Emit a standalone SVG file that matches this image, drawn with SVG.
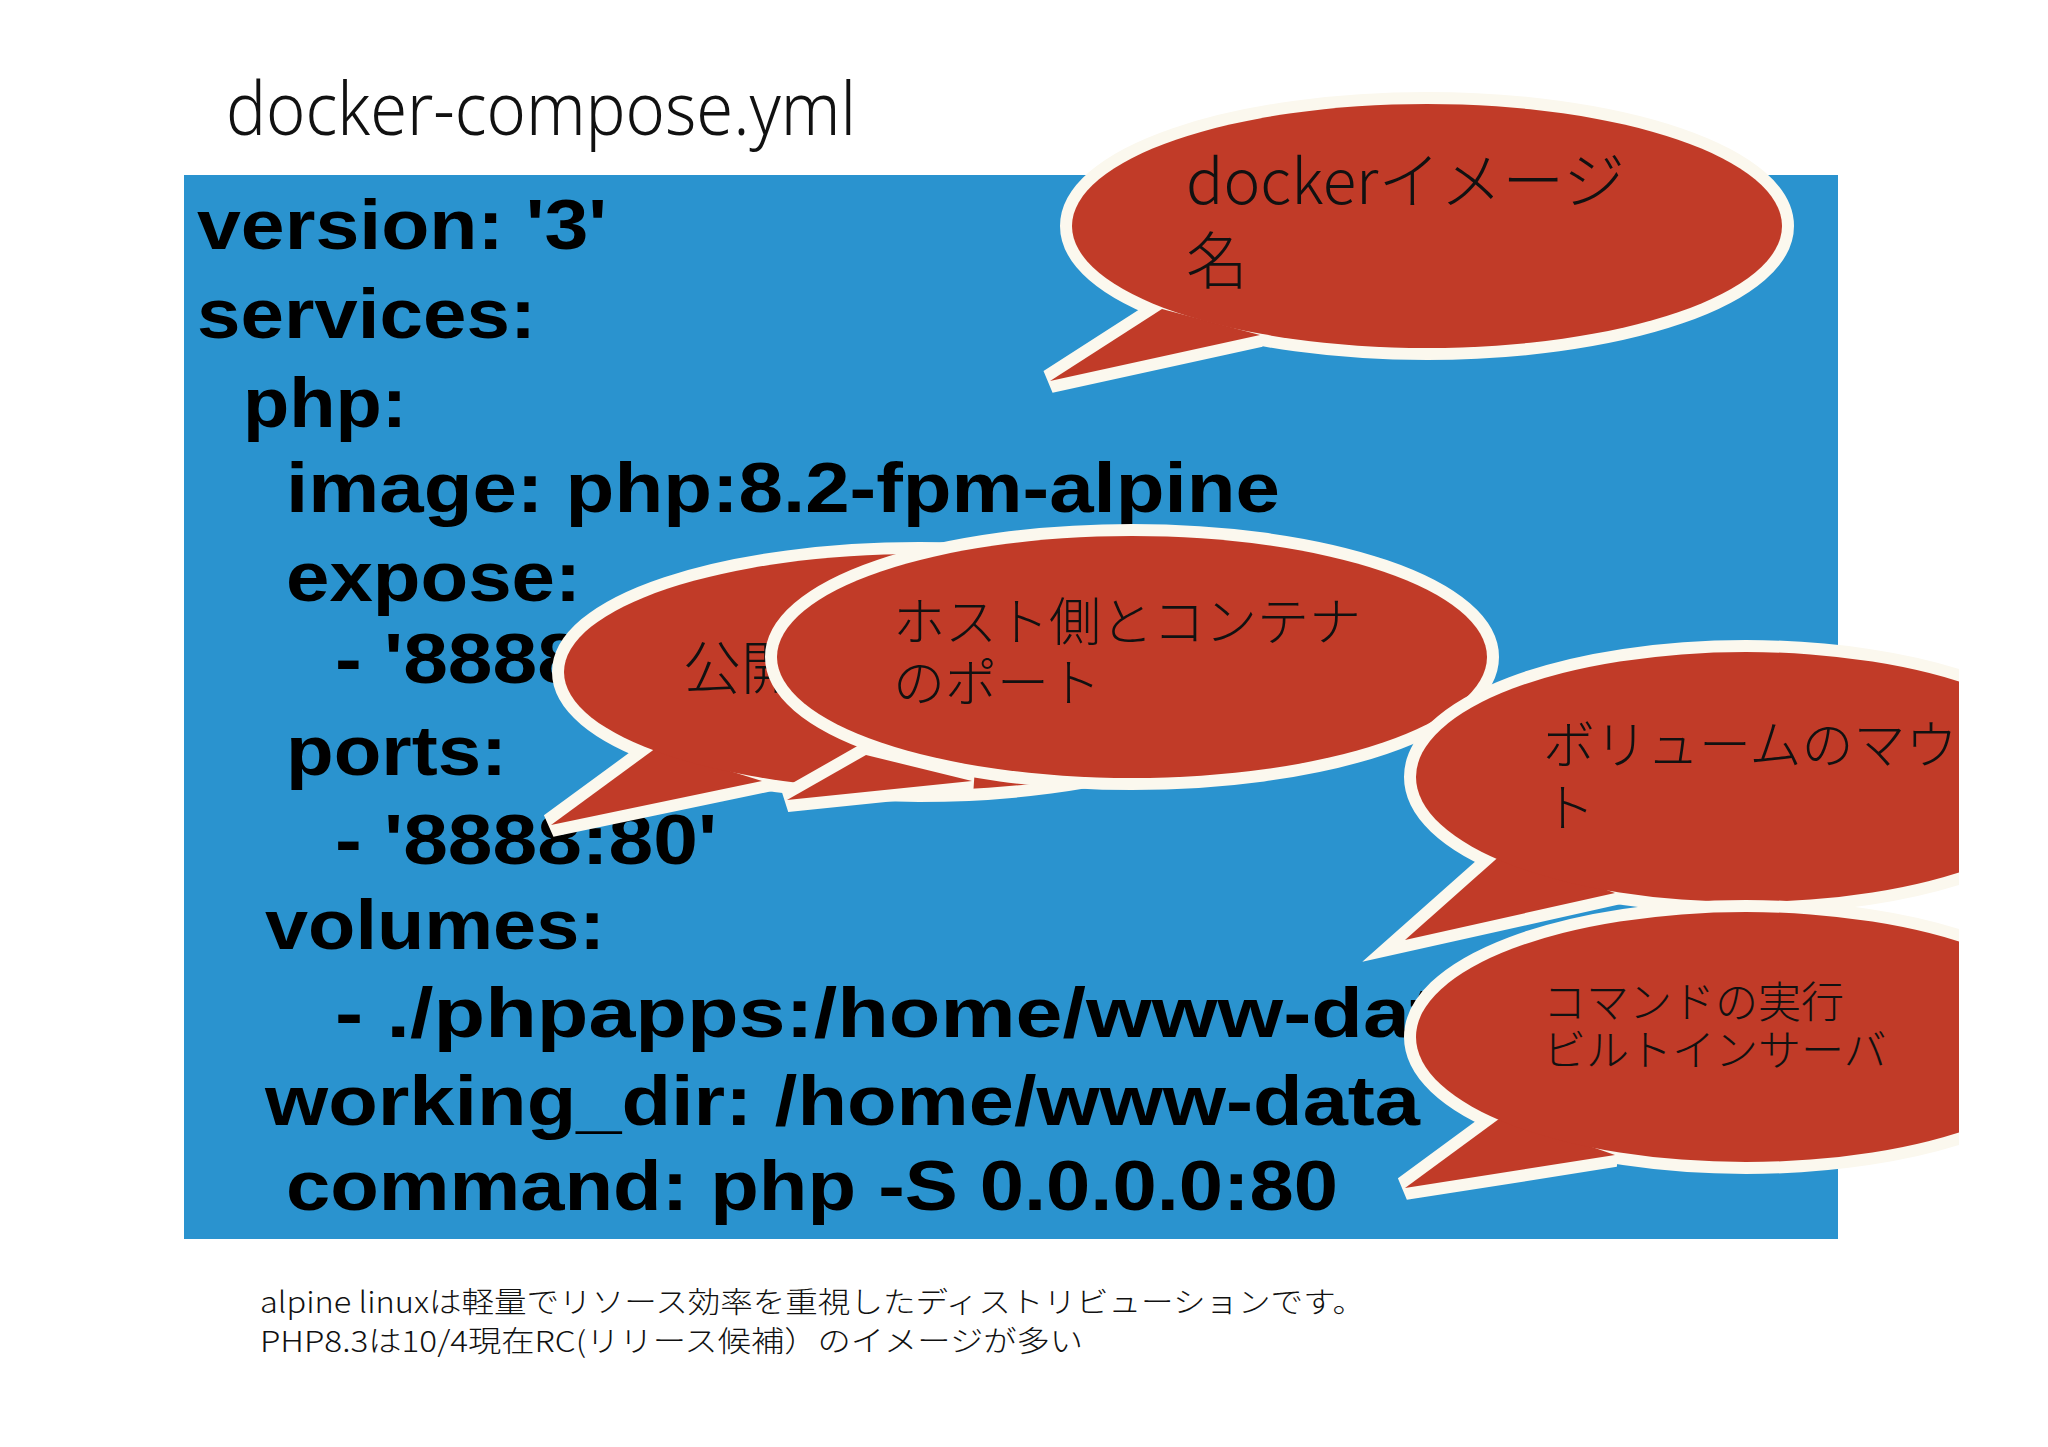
<svg xmlns="http://www.w3.org/2000/svg" width="2048" height="1447" viewBox="0 0 2048 1447">
<style>
.code{font-family:"Liberation Sans",Arial,sans-serif;font-weight:bold;font-size:70px;fill:#000}
.w{fill:#fbf8ee;stroke:#fbf8ee;stroke-width:24;stroke-linejoin:miter}
.r{fill:#c13b28}
.jp{font-family:"Noto Sans CJK JP","Noto Sans",sans-serif;fill:#111;font-weight:300}
</style>
<defs><clipPath id="cr"><rect x="0" y="0" width="1959" height="1447"/></clipPath></defs>
<rect width="2048" height="1447" fill="#fff"/>
<text x="226" y="135" font-family="Noto Sans, sans-serif" font-weight="300" font-size="74" textLength="630" lengthAdjust="spacingAndGlyphs" fill="#111">docker-compose.yml</text>
<rect id="panel" x="184" y="175" width="1654" height="1064" fill="#2a93cf"/>
<g id="code" class="code">
<text x="197" y="249" textLength="410" lengthAdjust="spacingAndGlyphs">version: '3'</text>
<text x="197" y="338" textLength="339" lengthAdjust="spacingAndGlyphs">services:</text>
<text x="243" y="427" textLength="164" lengthAdjust="spacingAndGlyphs">php:</text>
<text x="286" y="512" textLength="994" lengthAdjust="spacingAndGlyphs">image: php:8.2-fpm-alpine</text>
<text x="286" y="601" textLength="295" lengthAdjust="spacingAndGlyphs">expose:</text>
<text x="335" y="683" textLength="382" lengthAdjust="spacingAndGlyphs">- '8888:80'</text>
<text x="286" y="775" textLength="221" lengthAdjust="spacingAndGlyphs">ports:</text>
<text x="335" y="864" textLength="382" lengthAdjust="spacingAndGlyphs">- '8888:80'</text>
<text x="265" y="949" textLength="340" lengthAdjust="spacingAndGlyphs">volumes:</text>
<text x="335" y="1037" textLength="1150" lengthAdjust="spacingAndGlyphs">- ./phpapps:/home/www-data</text>
<text x="265" y="1125" textLength="1155" lengthAdjust="spacingAndGlyphs">working_dir: /home/www-data</text>
<text x="286" y="1210" textLength="1052" lengthAdjust="spacingAndGlyphs">command: php -S 0.0.0.0:80</text>
</g>
<g id="bubble-image">
<path class="w" d="M1162,309 L1050,381 L1260,335 Z"/><ellipse class="w" cx="1427" cy="226" rx="355" ry="122"/>
<path class="r" d="M1162,309 L1050,381 L1260,335 Z"/><ellipse class="r" cx="1427" cy="226" rx="355" ry="122"/>
<text class="jp" x="1186" y="204" font-size="62">dockerイメージ</text>
<text class="jp" x="1186" y="284" font-size="62">名</text>
</g>
<g id="bubble-expose">
<path class="w" d="M656,748 L551,825 L762,781 Z"/><ellipse class="w" cx="919" cy="672" rx="355" ry="118"/>
<path class="r" d="M656,748 L551,825 L762,781 Z"/><ellipse class="r" cx="919" cy="672" rx="355" ry="118"/>
<text class="jp" x="683" y="689" font-size="58">公開</text>
</g>
<g id="bubble-ports">
<path class="w" d="M866,755 L787,800 L972,781 Z"/><ellipse class="w" cx="1132" cy="657" rx="355" ry="121"/>
<path class="r" d="M866,755 L787,800 L972,781 Z"/><ellipse class="r" cx="1132" cy="657" rx="355" ry="121"/>
<text class="jp" x="893" y="641" font-size="52">ホスト側とコンテナ</text>
<text class="jp" x="893" y="702" font-size="52">のポート</text>
</g>
<g id="bubble-volumes" clip-path="url(#cr)">
<path class="w" d="M1503,853 L1405,940 L1615,893 Z"/><ellipse class="w" cx="1746" cy="777" rx="330" ry="125"/>
<path class="r" d="M1503,853 L1405,940 L1615,893 Z"/><ellipse class="r" cx="1746" cy="777" rx="330" ry="125"/>
<text class="jp" x="1543" y="764" font-size="52">ボリュームのマウ</text>
<text class="jp" x="1543" y="827" font-size="52">ト</text>
</g>
<g id="bubble-command" clip-path="url(#cr)">
<path class="w" d="M1503,1116 L1405,1188 L1615,1155 Z"/><ellipse class="w" cx="1746" cy="1037" rx="330" ry="125"/>
<path class="r" d="M1503,1116 L1405,1188 L1615,1155 Z"/><ellipse class="r" cx="1746" cy="1037" rx="330" ry="125"/>
<text class="jp" x="1543" y="1018" font-size="43">コマンドの実行</text>
<text class="jp" x="1543" y="1066" font-size="43">ビルトインサーバ</text>
</g>
<g id="note" class="jp" font-size="29">
<text x="260" y="1313" textLength="1105" lengthAdjust="spacingAndGlyphs">alpine linuxは軽量でリソース効率を重視したディストリビューションです。</text>
<text x="260" y="1352" textLength="823" lengthAdjust="spacingAndGlyphs">PHP8.3は10/4現在RC(リリース候補）のイメージが多い</text>
</g>
<g id="connectors"/>
</svg>
